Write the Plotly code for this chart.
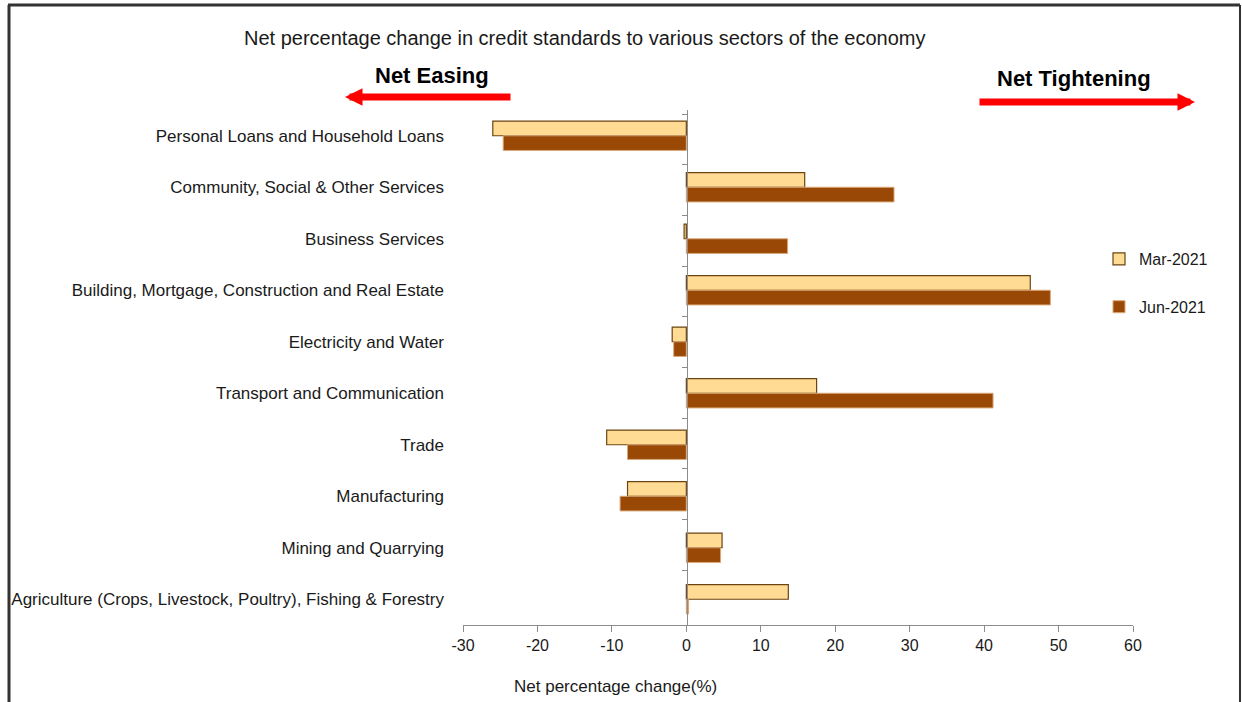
import plotly.graph_objects as go

categories = [
    "Personal Loans and Household Loans",
    "Community, Social & Other Services",
    "Business Services",
    "Building, Mortgage, Construction and Real Estate",
    "Electricity and Water",
    "Transport and Communication",
    "Trade",
    "Manufacturing",
    "Mining and Quarrying",
    "Agriculture (Crops, Livestock, Poultry), Fishing & Forestry",
]
mar_2021 = [-26.0, 15.9, -0.3, 46.2, -1.9, 17.5, -10.7, -7.9, 4.8, 13.7]
jun_2021 = [-24.6, 27.9, 13.6, 48.9, -1.7, 41.2, -7.9, -8.9, 4.6, 0.3]
x_ticks = [-30, -20, -10, 0, 10, 20, 30, 40, 50, 60]
x_tick_labels = [str(v) for v in x_ticks]

W, H = 1242, 702
L, R, T, B = 463, 1133, 110, 625


def px(x):
    return (x - L) / (R - L)


def py(y):
    return (B - y) / (B - T)


FONT = "Liberation Sans, Arial, sans-serif"
TXT = "#1a1a1a"

fig = go.Figure()
fig.add_trace(go.Bar(
    y=categories, x=mar_2021, orientation="h", name="Mar-2021",
    marker=dict(color="#FFDB94", line=dict(color="#6b4412", width=1.2)),
    legendgroup="a",
))
fig.add_trace(go.Bar(
    y=categories, x=jun_2021, orientation="h", name="Jun-2021",
    marker=dict(color="#994806", line=dict(color="#d9a878", width=1)),
    legendgroup="b",
))
# helper trace for the zero-line axis with category-boundary ticks
fig.add_trace(go.Scatter(
    y=categories, x=[0] * len(categories), yaxis="y2", mode="markers",
    marker=dict(opacity=0), showlegend=False, hoverinfo="skip",
))

fig.update_layout(
    width=W, height=H,
    margin=dict(l=L, r=W - R, t=T, b=H - B),
    paper_bgcolor="white", plot_bgcolor="white",
    barmode="group", bargap=0.43, bargroupgap=0,
    font=dict(family=FONT, size=16, color=TXT),
    xaxis=dict(
        range=[-30, 60], tickvals=x_ticks, ticktext=x_tick_labels,
        ticks="outside", ticklen=6,
        tickcolor="#8c8c8c", showline=True, linecolor="#8c8c8c", linewidth=1,
        showgrid=False, zeroline=False, tickfont=dict(size=16, color=TXT),
    ),
    yaxis=dict(
        categoryorder="array", categoryarray=categories, autorange="reversed",
        showgrid=False, zeroline=False, showline=False, ticks="",
        ticklabelstandoff=18, tickfont=dict(size=17, color=TXT),
    ),
    yaxis2=dict(
        overlaying="y", anchor="free", position=px(687), side="left",
        categoryorder="array", categoryarray=categories, autorange="reversed",
        showgrid=False, zeroline=False, showline=True, linecolor="#8c8c8c",
        linewidth=1, ticks="outside", ticklen=5, tickcolor="#8c8c8c",
        tickson="boundaries", showticklabels=False,
    ),
    legend=dict(
        x=px(1099), y=py(242), xanchor="left", yanchor="top",
        font=dict(size=16, color=TXT), tracegroupgap=24,
        itemwidth=30, bgcolor="rgba(0,0,0,0)",
    ),
    showlegend=True,
)

annotations = [
    dict(text="Net percentage change in credit standards to various sectors of the economy",
         x=px(585), y=py(38), xref="paper", yref="paper", showarrow=False,
         font=dict(size=20, color=TXT), xanchor="center", yanchor="middle"),
    dict(text="<b>Net Easing</b>", x=px(432), y=py(75), xref="paper", yref="paper",
         showarrow=False, font=dict(size=22, color="black"), xanchor="center", yanchor="middle"),
    dict(text="<b>Net Tightening</b>", x=px(1074), y=py(78), xref="paper", yref="paper",
         showarrow=False, font=dict(size=22, color="black"), xanchor="center", yanchor="middle"),
    dict(text="Net percentage change(%)", x=px(615), y=py(686), xref="paper", yref="paper",
         showarrow=False, font=dict(size=17, color=TXT), xanchor="center", yanchor="middle"),
    dict(text="", x=px(345), y=py(97), xref="paper", yref="paper", ax=167, ay=0,
         showarrow=True, arrowhead=2, arrowsize=0.5, arrowwidth=7, arrowcolor="#ff0000"),
    dict(text="", x=px(1195), y=py(102), xref="paper", yref="paper", ax=-217, ay=0,
         showarrow=True, arrowhead=2, arrowsize=0.5, arrowwidth=7, arrowcolor="#ff0000"),
]
fig.update_layout(annotations=annotations)

shapes = [
    # outer frame
    dict(type="line", xref="paper", yref="paper", x0=px(9), x1=px(9), y0=py(5), y1=py(702),
         line=dict(color="#333333", width=3)),
    dict(type="line", xref="paper", yref="paper", x0=px(8), x1=px(1240), y0=py(5), y1=py(5),
         line=dict(color="#333333", width=3)),
    dict(type="line", xref="paper", yref="paper", x0=px(1240), x1=px(1240), y0=py(5), y1=py(702),
         line=dict(color="#333333", width=2)),
]
fig.update_layout(shapes=shapes)

fig.write_html("out.html")
